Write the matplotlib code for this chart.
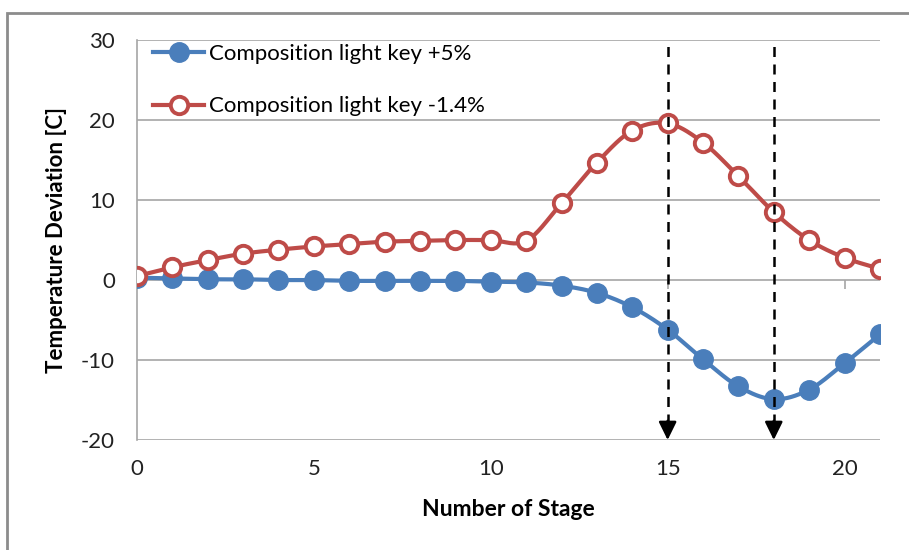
import numpy as np
import matplotlib.pyplot as plt
from matplotlib.patches import Rectangle

plt.rcParams['font.family'] = ['Lato', 'DejaVu Sans']
plt.rcParams['axes.unicode_minus'] = False

stages = list(range(22))
light_key_plus5 = [0.3, 0.2, 0.1, 0.1, 0.0, 0.0, -0.1, -0.1, -0.1, -0.1, -0.2, -0.3,
                   -0.7, -1.6, -3.4, -6.2, -9.9, -13.3, -14.9, -13.7, -10.4, -6.8]
light_key_minus14 = [0.5, 1.6, 2.5, 3.3, 3.8, 4.2, 4.5, 4.8, 4.9, 5.0, 5.0, 4.9,
                     9.6, 14.7, 18.7, 19.6, 17.2, 13.0, 8.5, 5.0, 2.8, 1.4]
labels = ["Composition light key +5%", "Composition light key -1.4%"]
arrow_stages = [15, 18]
xticks = [0, 5, 10, 15, 20]
yticks = [-20, -10, 0, 10, 20, 30]

blue = "#4a7ebb"
red = "#be4b48"


def smooth(x, y, n=20):
    # catmull-rom style curve through the points, like excel's smoothed line
    x = np.asarray(x, float)
    y = np.asarray(y, float)
    px = np.concatenate([[2 * x[0] - x[1]], x, [2 * x[-1] - x[-2]]])
    py = np.concatenate([[2 * y[0] - y[1]], y, [2 * y[-1] - y[-2]]])
    xs, ys = [], []
    for i in range(1, len(px) - 2):
        t = np.linspace(0, 1, n, endpoint=False)
        for p, out in ((px, xs), (py, ys)):
            p0, p1, p2, p3 = p[i - 1], p[i], p[i + 1], p[i + 2]
            out.extend(0.5 * ((2 * p1) + (-p0 + p2) * t
                              + (2 * p0 - 5 * p1 + 4 * p2 - p3) * t ** 2
                              + (-p0 + 3 * p1 - 3 * p2 + p3) * t ** 3))
    xs.append(x[-1])
    ys.append(y[-1])
    return xs, ys


fig = plt.figure(figsize=(9.09, 5.5), dpi=100)
ax = fig.add_axes([0.1507, 0.2, 0.8173, 0.727])

# gray frame around the chart area
fig.patches.append(Rectangle((0.008, -0.1), 1.1, 1.076, transform=fig.transFigure,
                             fill=False, edgecolor="#8c8c8c", linewidth=2))

# small tick marks on the zero line
ax.vlines(xticks, -1.1, 0, color="#a6a6a6", linewidth=1.2, zorder=1)

sx, sy = smooth(stages, light_key_plus5)
ax.plot(sx, sy, color=blue, linewidth=3, zorder=3)
ax.plot(stages, light_key_plus5, linestyle="none", marker="o", markersize=14,
        color=blue, zorder=4)
sx, sy = smooth(stages, light_key_minus14)
ax.plot(sx, sy, color=red, linewidth=3, zorder=3)
ax.plot(stages, light_key_minus14, linestyle="none", marker="o", markersize=12.5,
        markerfacecolor="white", markeredgecolor=red, markeredgewidth=2.8, zorder=4)

# legend handles
h1, = ax.plot([], [], color=blue, linewidth=3, marker="o", markersize=14)
h2, = ax.plot([], [], color=red, linewidth=3, marker="o", markersize=12.5,
              markerfacecolor="white", markeredgewidth=2.8)
ax.legend([h1, h2], labels, loc="upper left", bbox_to_anchor=(-0.005, 1.04),
          frameon=False, fontsize=16, handlelength=2.3, handletextpad=0.2,
          labelspacing=1.45)

# dashed arrows marking the stages
ax.vlines(arrow_stages, -18, 30, colors="black", linestyles=(0, (4, 3)),
          linewidth=1.8, zorder=5)
for s in arrow_stages:
    ax.annotate("", xy=(s, -20), xytext=(s, -17.6),
                arrowprops=dict(arrowstyle="-|>,head_length=0.55,head_width=0.27",
                                mutation_scale=20, color="black", linewidth=1.8,
                                shrinkA=0, shrinkB=0), zorder=5)

ax.set_xlim(0, 21)
ax.set_ylim(-20, 30)
ax.set_xticks(xticks)
ax.set_yticks(yticks)
ax.grid(axis="y", color="#a6a6a6", linewidth=1.2)
ax.set_axisbelow(True)
for side in ["top", "right", "bottom"]:
    ax.spines[side].set_visible(False)
ax.spines["left"].set_color("#a6a6a6")
ax.spines["left"].set_linewidth(1.2)
ax.tick_params(axis="both", length=0, labelsize=16, colors="#222222", pad=14)
ax.tick_params(axis="y", pad=16)
ax.set_xlabel("Number of Stage", fontsize=16.5, fontweight="bold", labelpad=14)
ax.set_ylabel("Temperature Deviation [C]", fontsize=16, fontweight="bold", labelpad=10)

fig.savefig("out.png", dpi=100)
